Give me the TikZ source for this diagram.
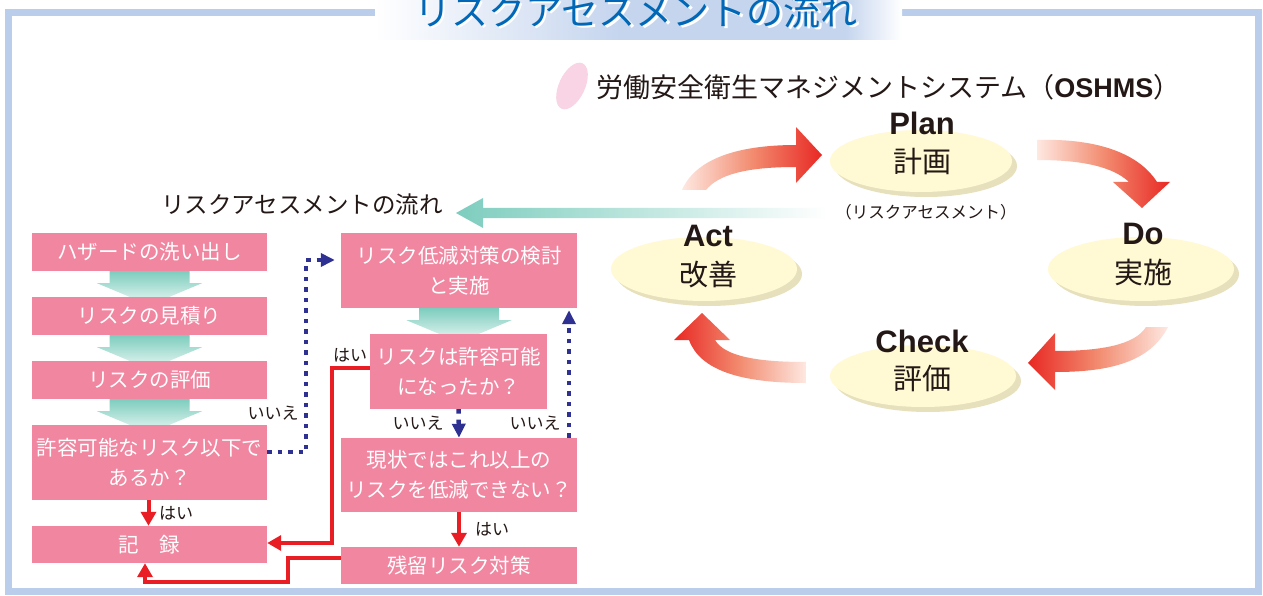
\documentclass[tikz,border=0pt]{standalone}
\usepackage{fontspec}
\newfontfamily\jp{Noto Sans CJK JP}
\newfontfamily\lat{Liberation Sans}
\usetikzlibrary{arrows.meta,shapes.geometric,shadows}
\definecolor{boxpink}{RGB}{240,134,160}
\definecolor{navyd}{RGB}{46,49,146}
\definecolor{redl}{RGB}{232,30,36}
\definecolor{frameblue}{RGB}{186,205,234}
\definecolor{bandblue}{RGB}{197,213,238}
\definecolor{titleblue}{RGB}{0,104,183}
\definecolor{ellfill}{RGB}{255,249,212}
\definecolor{ellshadow}{RGB}{230,224,188}
\definecolor{pinkdot}{RGB}{248,212,228}
\definecolor{tealA}{RGB}{125,205,190}
\definecolor{tealB}{RGB}{236,248,245}
\definecolor{textblack}{RGB}{35,24,21}
\definecolor{fadeR}{RGB}{254,232,225}
\definecolor{midR}{RGB}{242,140,112}
\definecolor{redA}{RGB}{232,40,35}
\newcommand\tealdown[1]{\shade[top color=tealA, bottom color=tealB, shift={(#1.south)}] (-40,0) -- (40,0) -- (40,12) -- (52.5,12) -- (0,34) -- (-52.5,12) -- (-40,12) -- cycle;}
\begin{document}
\begin{tikzpicture}[x=1pt,y=-1pt,
  fbox/.style={fill=boxpink, text=white, font=\jp\fontsize{20.5}{30}\selectfont, align=center, inner sep=0pt, minimum width=235pt},
  bluedot/.style={draw=navyd, line width=4.5pt, dash pattern=on 4.5pt off 6pt, -{Triangle[length=14pt,width=13pt]}},
  redarrow/.style={draw=redl, line width=4pt, -{Triangle[length=14pt,width=15pt]}},
  lab/.style={font=\jp\fontsize{17}{20}\selectfont, text=textblack, inner sep=0pt},
  pdca/.style={ellipse, fill=ellfill, inner sep=0pt, drop shadow={shadow xshift=5pt, shadow yshift=-5pt, fill=ellshadow, opacity=1}},
  pdcaen/.style={font=\lat\bfseries\fontsize{31}{34}\selectfont, inner sep=0pt, text=textblack},
  pdcajp/.style={font=\jp\fontsize{29}{32}\selectfont, inner sep=0pt, text=textblack}]
\useasboundingbox (0,0) rectangle (1263,596);
\fill[white] (0,0) rectangle (1263,596);
% frame
\draw[frameblue, line width=7pt] (8.5,13) rectangle (1258.5,591.5);
% title band
\shade[left color=white, right color=bandblue] (375,0) rectangle (620,40);
\fill[bandblue] (619.5,0) rectangle (845.5,40);
\shade[left color=bandblue, right color=white] (845,0) rectangle (902,40);
\node[font=\jp\fontsize{37}{40}\selectfont, text=white, inner sep=0pt] (titleshadow) at (638.5,13.5) {リスクアセスメントの流れ};
\node[font=\jp\fontsize{37}{40}\selectfont, text=titleblue, inner sep=0pt] (title) at (636,11) {リスクアセスメントの流れ};
% subtitle
\fill[pinkdot, rotate around={-25:(572,86)}] (572,86) ellipse (13 and 25);
\node[anchor=west, font=\jp\fontsize{27}{30}\selectfont, text=textblack, inner sep=0pt] (oshms) at (596,87) {労働安全衛生マネジメントシステム（{\lat\bfseries OSHMS}）};
% flowchart left
\node[fbox, minimum height=38pt] (b1) at (149.5,252) {ハザードの洗い出し};
\tealdown{b1}
\node[fbox, minimum height=38pt] (b2) at (149.5,316) {リスクの見積り};
\tealdown{b2}
\node[fbox, minimum height=38pt] (b3) at (149.5,380) {リスクの評価};
\tealdown{b3}
\node[fbox, minimum height=75pt] (b4) at (149.5,462.5) {許容可能なリスク以下で\\あるか？};
\node[fbox, minimum height=37pt] (b5) at (149.5,544.5) {記　録};
% flowchart right
\node[fbox, minimum width=236pt, minimum height=75pt] (r1) at (459,270.5) {リスク低減対策の検討\\と実施};
\tealdown{r1}
\node[fbox, minimum width=177pt, minimum height=75pt] (r2) at (458.5,371.5) {リスクは許容可能\\になったか？};
\node[fbox, minimum width=236pt, minimum height=74pt] (r3) at (459,475) {現状ではこれ以上の\\リスクを低減できない？};
\node[fbox, minimum width=236pt, minimum height=37pt] (r4) at (459,565.5) {残留リスク対策};
% blue dotted connectors
\draw[bluedot, shorten >=6pt] ([yshift=10.5pt]b4.east) -- ++(39,0) |- ([yshift=10.5pt]r1.west);
\draw[bluedot] (r2.south) -- (r3.north);
\draw[bluedot, shorten >=2pt] ([xshift=110pt]r3.north) -- ([xshift=110pt]r1.south);
% red connectors
\draw[redarrow] ([yshift=3.5pt]r2.west) -- ++(-38,0) |- ([yshift=1.5pt]b5.east);
\draw[redarrow] ([xshift=-1pt]b4.south) -- ([xshift=-1pt]b5.north);
\draw[redarrow] (r3.south) -- (r4.north);
\draw[redarrow] ([yshift=7.5pt]r4.west) -- ++(-53,0) -- ++(0,24) -| ([xshift=-4.5pt]b5.south);
% labels
\node[lab] (no1) at (273,413) {いいえ};
\node[lab] (no2) at (418,423) {いいえ};
\node[lab] (no3) at (535,423) {いいえ};
\node[lab] (yes1) at (350,355) {はい};
\node[lab] (yes2) at (176,513) {はい};
\node[lab] (yes3) at (492,529) {はい};
% left label and long teal arrow
\node[font=\jp\fontsize{23.5}{26}\selectfont, text=textblack, inner sep=0pt] (ralabel) at (302,205) {リスクアセスメントの流れ};
\shade[left color=tealA, right color=white] (828,208) -- (483,208) -- (483,198) -- (456,213) -- (483,228) -- (483,218) -- (828,218) -- cycle;
% PDCA
\node[pdca, minimum width=182pt, minimum height=62pt] (plan) at (921,161) {};
\node[pdca, minimum width=186pt, minimum height=64pt] (do) at (1141,269) {};
\node[pdca, minimum width=186pt, minimum height=64pt] (act) at (704,269) {};
\node[pdca, minimum width=186pt, minimum height=62pt] (check) at (923,376) {};
\node[pdcaen] (planen) at (922,123) {Plan};
\node[pdcajp] (planjp) at (922,162) {計画};
\node[pdcaen] (doen) at (1143,234) {Do};
\node[pdcajp] (dojp) at (1143,272) {実施};
\node[pdcaen] (acten) at (708,236) {Act};
\node[pdcajp] (actjp) at (708,275) {改善};
\node[pdcaen] (checken) at (922,341) {Check};
\node[pdcajp] (checkjp) at (922,379) {評価};
\node[font=\jp\fontsize{16.5}{18}\selectfont, text=textblack, inner sep=0pt] (rasub) at (926,212) {（リスクアセスメント）};
% curved red arrows
\shade[left color=fadeR, right color=redA, middle color=midR]
  (682,190) .. controls (695,160) and (735,145) .. (796,145) -- (796,127) -- (822,155) -- (796,183) -- (796,167) .. controls (745,167) and (718,175) .. (706,190) -- cycle;
\shade[left color=fadeR, right color=redA, middle color=midR]
  (1037,140) .. controls (1100,138) and (1140,155) .. (1157,182) -- (1170,182) -- (1142,208) -- (1113,182) -- (1129,182) .. controls (1112,166) and (1080,160) .. (1037,160) -- cycle;
\shade[left color=redA, right color=fadeR, middle color=midR]
  (1168,327) .. controls (1150,362) and (1110,372) .. (1055,372) -- (1055,390) -- (1028,363) -- (1055,333) -- (1055,351) .. controls (1100,351) and (1135,345) .. (1146,327) -- cycle;
\shade[left color=redA, right color=fadeR, middle color=midR]
  (806,383) .. controls (740,383) and (700,370) .. (689,340) -- (674,340) -- (702,313) -- (730,340) -- (715,340) .. controls (725,357) and (760,362) .. (806,362) -- cycle;
\end{tikzpicture}
\end{document}
